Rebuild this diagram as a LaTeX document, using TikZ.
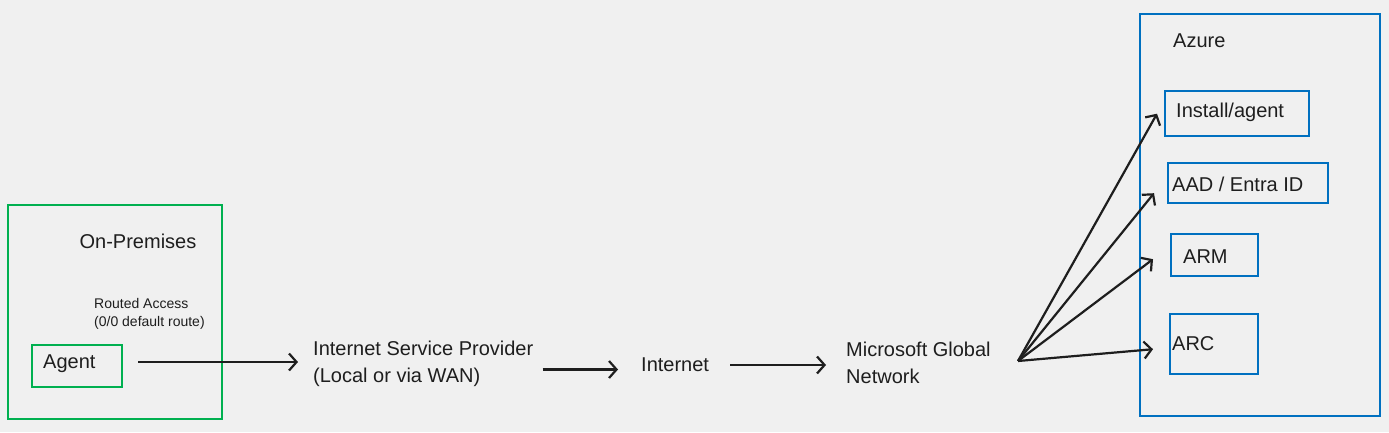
\documentclass[tikz,border=0pt]{standalone}
\usepackage{fontspec}
\setmainfont{Liberation Sans}
\usetikzlibrary{arrows.meta,calc}
\definecolor{bg}{HTML}{F0F0F0}
\definecolor{grn}{HTML}{00B050}
\definecolor{blu}{HTML}{0070C0}
\definecolor{ink}{HTML}{1E1E1E}
\begin{document}
\begin{tikzpicture}[x=1pt,y=-1pt,
  gbox/.style={draw=grn,line width=2pt,inner sep=0pt,anchor=north west},
  bbox/.style={draw=blu,line width=2.4pt,inner sep=0pt,anchor=north west},
  lbl/.style={font=\fontsize{20}{27}\selectfont,text=ink,inner sep=0pt,align=left,anchor=west},
  sml/.style={font=\fontsize{14}{18}\selectfont,text=ink,inner sep=0pt,align=left,anchor=west},
  arr/.style={draw=ink,line width=2.2pt,-{Straight Barb[length=7.5pt,width=17pt,line width=2.2pt]}}]
\useasboundingbox[fill=bg] (0,0) rectangle (1389,432);

% On-premises
\node[gbox,minimum width=214pt,minimum height=214pt] (onprem) at (7,204) {};
\node[lbl,anchor=center] (onl) at (138,241) {On-Premises};
\node[sml] (routed) at (94,313.5) {Routed Access\\(0/0 default route)};
\node[gbox,minimum width=90pt,minimum height=42pt] (agent) at (31,344) {};
\node[lbl] (agentl) at (43,364) {Agent};

% chain
\node[lbl] (isp) at (313,363.5) {Internet Service Provider\\(Local or via WAN)};
\node[lbl] (inet) at (641,365) {Internet};
\node[lbl] (mgn) at (846,362.5) {Microsoft Global\\Network};
\coordinate (fan) at (1018,361);

% Azure
\node[bbox,minimum width=240pt,minimum height=402pt] (azure) at (1139,13) {};
\node[lbl] (azl) at (1173,41) {Azure};
\node[bbox,minimum width=144pt,minimum height=45pt] (inst) at (1164,90) {};
\node[lbl] (instl) at (1176,112) {Install/agent};
\node[bbox,minimum width=160pt,minimum height=40pt] (aad) at (1167,162) {};
\node[lbl] (aadl) at (1172,184) {AAD / Entra ID};
\node[bbox,minimum width=87pt,minimum height=42pt] (arm) at (1170,233) {};
\node[lbl] (arml) at (1183,257) {ARM};
\node[bbox,minimum width=88pt,minimum height=60pt] (arc) at (1169,313) {};
\node[lbl] (arcl) at (1172,344) {ARC};

% connector end points
\coordinate (s1) at ($(agent.east)+(15,-4)$);
\coordinate (e1) at ($(isp.west)+(-15,0)$);
\coordinate (s2) at ($(isp.east)+(9,6)$);
\coordinate (e2) at ($(inet.west)+(-23,0)$);
\coordinate (s3) at ($(inet.east)+(21,0)$);
\coordinate (e3) at ($(mgn.west)+(-20,0)$);

% connectors
\draw[arr] (s1) -- (e1 |- s1);
\draw[arr] (s2) -- (e2 |- s2);
\draw[arr] (s3) -- (e3 |- s3);
\draw[arr] (fan) -- ($(inst.west)+(-7,0)$);
\draw[arr] (fan) -- ($(aad.west)+(-13,10)$);
\draw[arr] (fan) -- ($(arm.west)+(-17,4)$);
\draw[arr] (fan) -- ($(arc.west)+(-16,5)$);
\end{tikzpicture}
\end{document}
